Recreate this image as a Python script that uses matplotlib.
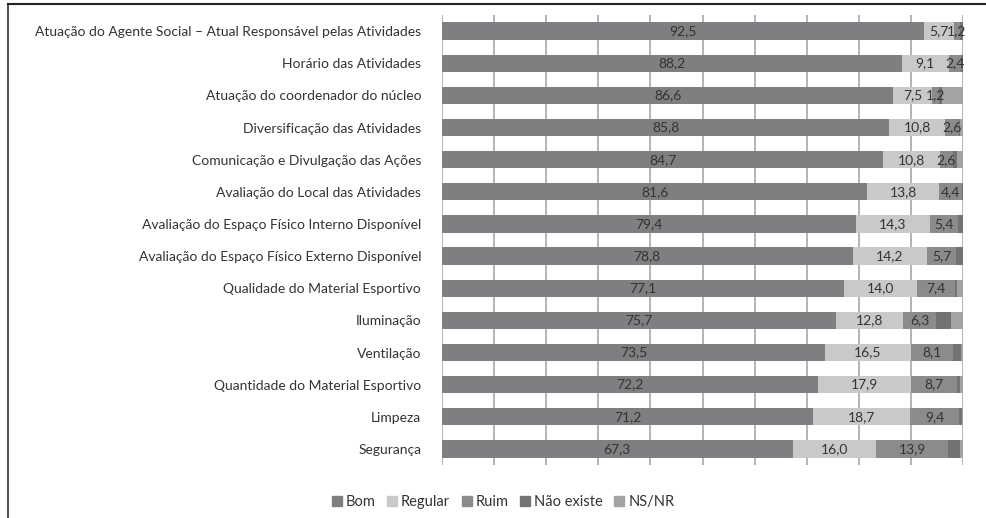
import matplotlib.pyplot as plt
import numpy as np
from matplotlib.lines import Line2D

plt.rcParams['font.family'] = ['Lato', 'DejaVu Sans']

categorias = [
    'Atuação do Agente Social – Atual Responsável pelas Atividades',
    'Horário das Atividades',
    'Atuação do coordenador do núcleo',
    'Diversificação das Atividades',
    'Comunicação e Divulgação das Ações',
    'Avaliação do Local das Atividades',
    'Avaliação do Espaço Físico Interno Disponível',
    'Avaliação do Espaço Físico Externo Disponível',
    'Qualidade do Material Esportivo',
    'Iluminação',
    'Ventilação',
    'Quantidade do Material Esportivo',
    'Limpeza',
    'Segurança',
]
bom = [92.5, 88.2, 86.6, 85.8, 84.7, 81.6, 79.4, 78.8, 77.1, 75.7, 73.5, 72.2, 71.2, 67.3]
regular = [5.7, 9.1, 7.5, 10.8, 10.8, 13.8, 14.3, 14.2, 14.0, 12.8, 16.5, 17.9, 18.7, 16.0]
ruim = [1.2, 2.4, 1.2, 2.6, 2.6, 4.4, 5.4, 5.7, 7.4, 6.3, 8.1, 8.7, 9.4, 13.9]
nao_existe = [0.6, 0.3, 0.6, 0.3, 0.8, 0.2, 0.9, 1.3, 0.4, 2.9, 1.6, 0.6, 0.5, 2.2]
ns_nr = [0.0, 0.0, 4.1, 0.5, 1.1, 0.0, 0.0, 0.0, 1.1, 2.3, 0.3, 0.6, 0.2, 0.6]

series = ['Bom', 'Regular', 'Ruim', 'Não existe', 'NS/NR']
valores = [bom, regular, ruim, nao_existe, ns_nr]
cores = ['#7f7f83', '#c9c9c9', '#8b8b8d', '#737376', '#a3a3a5']
rotular = [True, True, True, False, False]

fig = plt.figure(figsize=(9.86, 5.18), dpi=100)
ax = fig.add_axes([0.4483, 0.1023, 0.5284, 0.8687])

y = np.arange(len(categorias))
esq = np.zeros(len(categorias))
for nome, vals, cor, rot in zip(series, valores, cores, rotular):
    vals = np.array(vals)
    ax.barh(y, vals, left=esq, height=0.54, color=cor, label=nome, zorder=2)
    if rot:
        for yi, l, v in zip(y, esq, vals):
            txt = f'{v:.1f}'.replace('.', ',')
            ax.text(l + v / 2, yi, txt, ha='center', va='center',
                    fontsize=10, color='#333333', zorder=3)
    esq = esq + vals

ax.set_xlim(0, 100)
ax.set_ylim(len(categorias) - 0.5, -0.5)
ax.set_yticks(y)
ax.set_yticklabels(categorias, fontsize=10, color='#333333')
ax.tick_params(axis='y', length=0, pad=15)
ax.set_xticks(np.arange(0, 101, 10))
ax.tick_params(axis='x', length=0, labelbottom=False)
ax.grid(axis='x', color='#a8a8a8', linewidth=1.2, zorder=0)
for s in ax.spines.values():
    s.set_visible(False)

handles = [Line2D([], [], marker='s', linestyle='', markersize=7,
                  color=c) for c in cores]
fig.legend(handles, series, loc='center', bbox_to_anchor=(0.51, 0.03),
           ncol=5, frameon=False, fontsize=10.5, handlelength=0.7,
           handletextpad=0.25, columnspacing=0.8, labelcolor='#333333')

# moldura do gráfico
fig.add_artist(Line2D([0.008, 0.008], [0.0, 0.992], color='#555555', lw=1.5,
                      transform=fig.transFigure))
fig.add_artist(Line2D([0.008, 1.0], [0.992, 0.992], color='#222222', lw=1.5,
                      transform=fig.transFigure))

fig.savefig('out.png', dpi=100)
